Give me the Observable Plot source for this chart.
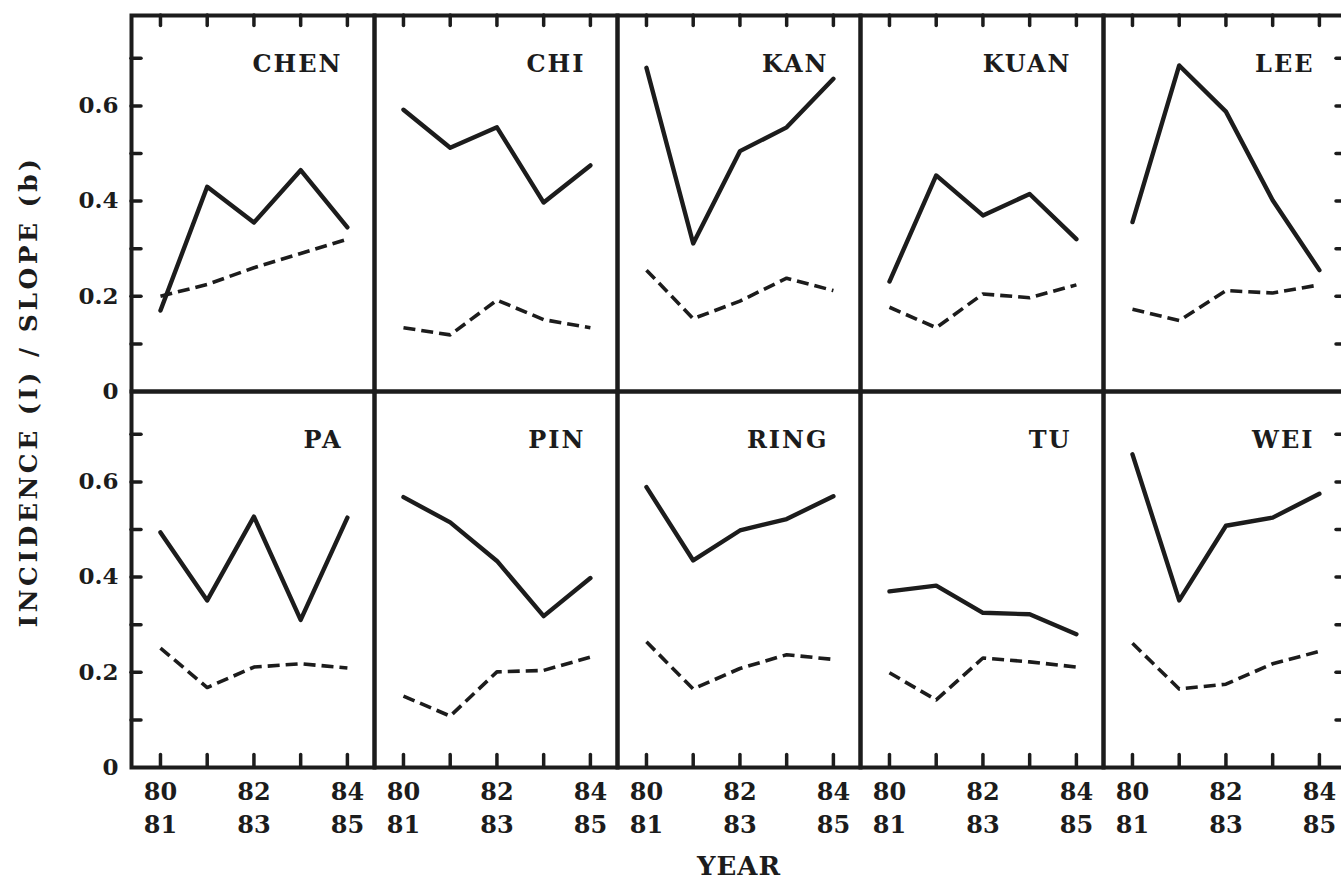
<!DOCTYPE html>
<html>
<head>
<meta charset="utf-8">
<script src="https://cdn.jsdelivr.net/npm/d3@7"></script>
<script src="https://cdn.jsdelivr.net/npm/@observablehq/plot@0.6"></script>
<style>
  html, body { margin: 0; padding: 0; background: #fff; overflow: hidden; }
  #chart svg { max-width: none !important; }
  #chart g[aria-label="y-axis label"] text { letter-spacing: 3.5px; }
  #chart g[aria-label="x-axis label"] text { letter-spacing: 1px; }
  #chart g[aria-label="text"] text { letter-spacing: 2px; }
</style>
</head>
<body>
<div id="chart"></div>
<script>
// Regions, in panel order (row by row)
const regions = ["CHEN", "CHI", "KAN", "KUAN", "LEE", "PA", "PIN", "RING", "TU", "WEI"];
// Seasons 80/81 .. 84/85
const seasonIndex = [0, 1, 2, 3, 4];
const seasonLabels = ["80\n81", "81\n82", "82\n83", "83\n84", "84\n85"];
const labelledSeasons = [0, 2, 4];
// Incidence (I) – solid lines
const incidence = [
  [0.170, 0.430, 0.355, 0.465, 0.345], // CHEN
  [0.592, 0.512, 0.555, 0.397, 0.475], // CHI
  [0.680, 0.311, 0.505, 0.555, 0.657], // KAN
  [0.231, 0.454, 0.370, 0.415, 0.320], // KUAN
  [0.356, 0.685, 0.588, 0.402, 0.255], // LEE
  [0.494, 0.351, 0.527, 0.310, 0.525], // PA
  [0.568, 0.515, 0.434, 0.318, 0.398], // PIN
  [0.589, 0.435, 0.498, 0.522, 0.570], // RING
  [0.370, 0.382, 0.325, 0.322, 0.280], // TU
  [0.658, 0.351, 0.508, 0.525, 0.575]  // WEI
];
// Slope (b) – dashed lines
const slope = [
  [0.200, 0.225, 0.260, 0.290, 0.320], // CHEN
  [0.134, 0.119, 0.192, 0.151, 0.134], // CHI
  [0.255, 0.153, 0.190, 0.238, 0.212], // KAN
  [0.177, 0.134, 0.205, 0.197, 0.224], // KUAN
  [0.173, 0.149, 0.212, 0.207, 0.224], // LEE
  [0.251, 0.168, 0.211, 0.218, 0.209], // PA
  [0.150, 0.108, 0.201, 0.204, 0.232], // PIN
  [0.264, 0.165, 0.208, 0.237, 0.227], // RING
  [0.199, 0.142, 0.230, 0.222, 0.211], // TU
  [0.261, 0.165, 0.175, 0.218, 0.244]  // WEI
];
const yLabelTicks = [0, 0.2, 0.4, 0.6];
const yTickMarks = [0.1, 0.2, 0.3, 0.4, 0.5, 0.6, 0.7];
const columns = 5;
const rows = 2;

const table = [];
regions.forEach((region, i) => {
  seasonIndex.forEach((t, j) => {
    const base = {region, col: i % columns, row: Math.floor(i / columns), t};
    table.push({...base, series: "incidence", value: incidence[i][j]});
    table.push({...base, series: "slope", value: slope[i][j]});
  });
});
const titles = regions.map((region, i) => ({region, col: i % columns, row: Math.floor(i / columns)}));

// tick-mark tables (which panels carry inward ticks on which edge)
const colIdx = d3.range(columns), rowIdx = d3.range(rows);
const topTicks = colIdx.flatMap(col => seasonIndex.map(t => ({col, row: 0, t})));
const bottomTicks = colIdx.flatMap(col => seasonIndex.map(t => ({col, row: rows - 1, t})));
const leftTicks = rowIdx.flatMap(row => yTickMarks.map(v => ({col: 0, row, v})));
const rightTicks = rowIdx.flatMap(row => yTickMarks.map(v => ({col: columns - 1, row, v})));

const ink = "#1c1c1c";
const font = "'DejaVu Serif', 'Liberation Serif', serif";
const W = 1350, H = 879, mL = 131, mR = 4, mT = 14, mB = 112;
const facetW = (W - mL - mR) / columns;
const facetH = (H - mT - mB) / rows;
const xTick = 11, xTickBottom = 13, yTick = 10;
const tickStyle = {stroke: ink, strokeWidth: 3.5, strokeLinecap: "round"};

const chart = Plot.plot({
  width: W,
  height: H,
  marginLeft: mL,
  marginRight: mR,
  marginTop: mT,
  marginBottom: mB,
  style: {fontFamily: font, fontWeight: "bold", color: ink, background: "#fff", maxWidth: "none", overflow: "visible"},
  x: {domain: [-0.62, 4.58], axis: null},
  y: {domain: [0, 0.79], axis: null},
  fx: {padding: 0, axis: null, domain: colIdx},
  fy: {padding: 0, axis: null, domain: rowIdx},
  marks: [
    Plot.lineY(table, {filter: d => d.series === "slope", x: "t", y: "value", fx: "col", fy: "row",
      stroke: ink, strokeWidth: 3.6, strokeDasharray: "12,6", strokeLinecap: "butt"}),
    Plot.lineY(table, {filter: d => d.series === "incidence", x: "t", y: "value", fx: "col", fy: "row",
      stroke: ink, strokeWidth: 4.4}),
    Plot.frame({stroke: ink, strokeWidth: 4}),
    Plot.tickX(topTicks, {x: "t", fx: "col", fy: "row", insetBottom: facetH - xTick, ...tickStyle}),
    Plot.tickX(bottomTicks, {x: "t", fx: "col", fy: "row", insetTop: facetH - xTickBottom, ...tickStyle}),
    Plot.tickY(leftTicks, {y: "v", fx: "col", fy: "row", insetRight: facetW - yTick, ...tickStyle}),
    Plot.tickY(rightTicks, {y: "v", fx: "col", fy: "row", insetLeft: facetW - yTick, ...tickStyle}),
    Plot.axisX(labelledSeasons, {anchor: "bottom", tickSize: 0, tickPadding: 9, tickFormat: i => seasonLabels[i],
      fontSize: 24, lineHeight: 1.38, fill: ink, label: null}),
    Plot.axisX([], {anchor: "bottom", tickSize: 0, label: "YEAR", labelAnchor: "center", labelArrow: "none", labelOffset: 107, fontSize: 26, fill: ink}),
    Plot.axisY(yLabelTicks, {anchor: "left", tickSize: 0, tickPadding: 13, tickFormat: d => d === 0 ? "0" : d.toFixed(1),
      fontSize: 23, fill: ink, label: null}),
    Plot.axisY([], {anchor: "left", tickSize: 0, label: "INCIDENCE (I) / SLOPE (b)", labelAnchor: "center", labelArrow: "none",
      labelOffset: 112, fontSize: 25, fill: ink}),
    Plot.text(titles, {fx: "col", fy: "row", text: "region", frameAnchor: "top-right", dx: -32, dy: 39,
      lineAnchor: "top", textAnchor: "end", fontSize: 24, fontWeight: "bold", fill: ink})
  ]
});
document.getElementById("chart").appendChild(chart);
</script>
</body>
</html>
